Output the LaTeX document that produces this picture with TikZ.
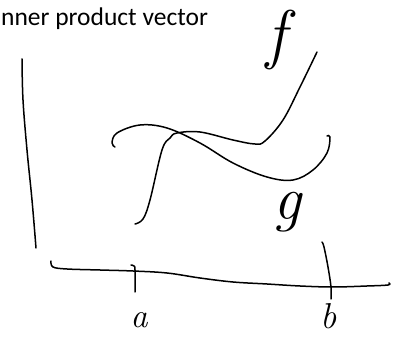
\documentclass[tikz,border=0pt]{standalone}
\usepackage{fontspec}
\newfontfamily\calib{Carlito}
\tikzset{
  ink/.style={line width=1.5pt, line cap=round, line join=round, black},
  hand/.style={inner sep=0pt, black, font=\itshape}
}
\begin{document}
\begin{tikzpicture}[x=1pt,y=-1pt]
\useasboundingbox[fill=white] (0,0) rectangle (405,339);
% title
\node[anchor=base west, inner sep=0pt, font=\calib\fontsize{25.5}{28}\selectfont] (title) at (1,26) {nner product vector};
% vertical axis
\draw[ink] plot[smooth, tension=0.6] coordinates {(22,59) (23,100) (27,150) (32,200) (36,248)};
% horizontal axis
\draw[ink] plot[smooth, tension=0.6] coordinates {(51,261) (53,267) (67,269) (100,270) (133,271) (167,273) (200,278) (233,282) (267,284) (300,286) (333,287) (367,286) (388,285) (389,283)};
% tick a
\draw[ink] plot[smooth, tension=0.6] coordinates {(131,265) (134,266) (135,270) (135,292)};
% tick b
\draw[ink] plot[smooth, tension=0.6] coordinates {(322,242) (324,247) (328,267) (331,287) (331,299)};
% curve f
\draw[ink] plot[smooth, tension=0.6] coordinates {(135,224) (143,219) (150,200) (162,150) (170,138) (177,133) (200,132) (233,140) (255,144) (265,141) (283,120) (300,87) (317,52)};
% curve g
\draw[ink] plot[smooth, tension=0.6] coordinates {(115,147) (112,143) (117,133) (140,125) (167,128) (200,143) (233,163) (267,177) (293,180) (313,170) (327,153) (330,137) (327,136)};
% labels
\node[hand, font=\itshape\fontsize{66}{66}\selectfont] (f) at (276,40) {f};
\node[hand, font=\itshape\fontsize{62}{62}\selectfont] (g) at (287,212) {g};
\node[hand, font=\itshape\fontsize{34}{34}\selectfont] (a) at (139,320) {a};
\node[hand, font=\itshape\fontsize{36}{36}\selectfont] (b) at (329,316) {b};
\end{tikzpicture}
\end{document}
